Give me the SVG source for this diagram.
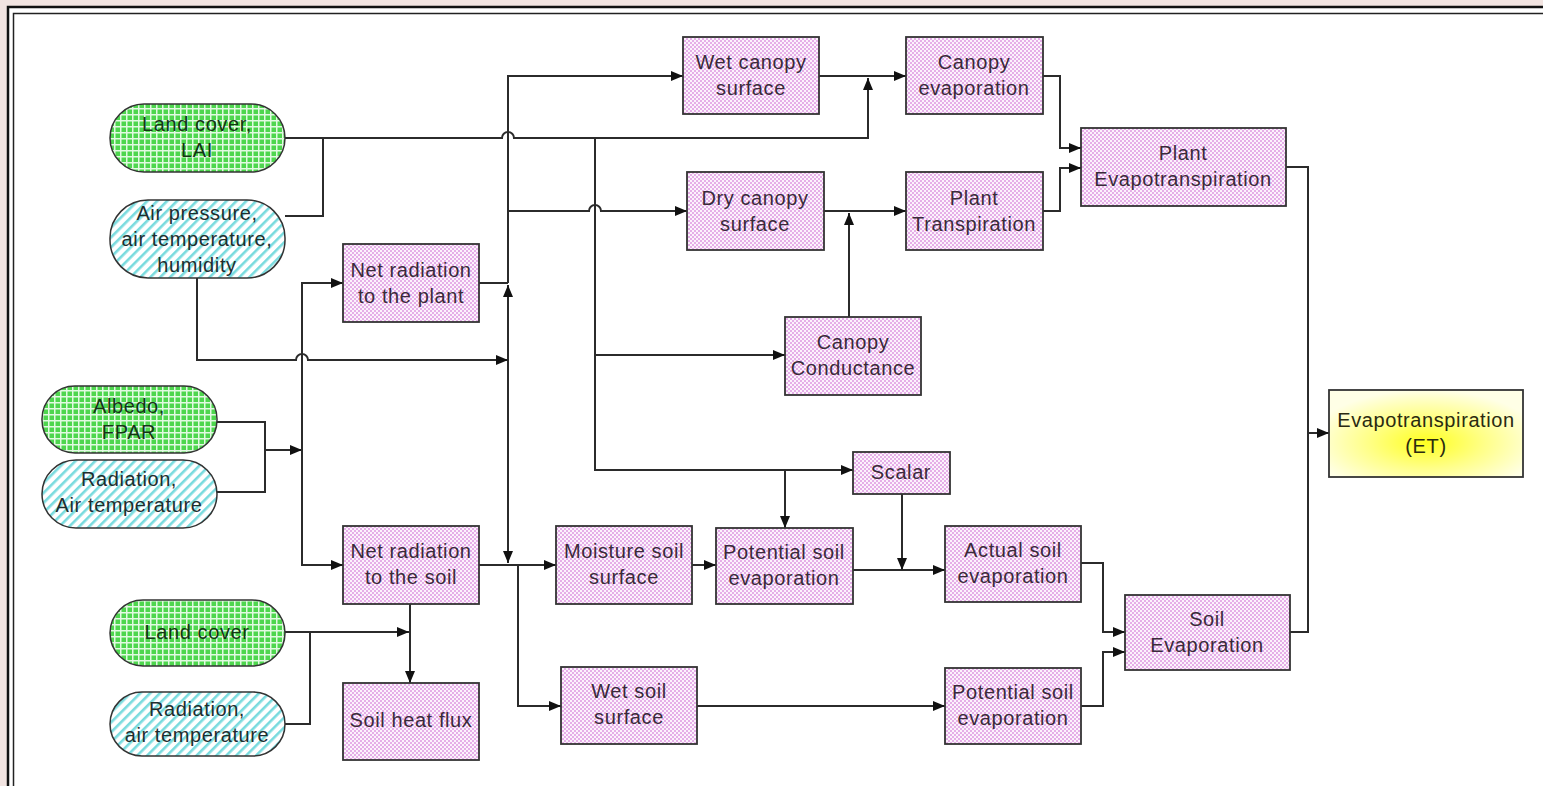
<svg xmlns="http://www.w3.org/2000/svg" width="1543" height="786" viewBox="0 0 1543 786">
<defs>
<pattern id="grid" width="6" height="6" patternUnits="userSpaceOnUse">
<rect width="6" height="6" fill="#4ed64e"/>
<path d="M0 0.75H6M0.75 0V6" stroke="#e2fae2" stroke-width="1.5"/>
</pattern>
<pattern id="stripe" width="7" height="7" patternUnits="userSpaceOnUse" patternTransform="rotate(45)">
<rect width="7" height="7" fill="#ffffff"/>
<rect width="2.6" height="7" fill="#79dbde"/>
</pattern>
<pattern id="dots" width="4" height="4" patternUnits="userSpaceOnUse">
<rect width="4" height="4" fill="#fcf2fc"/>
<circle cx="1" cy="1" r="0.95" fill="#dc92e0"/>
<circle cx="3" cy="3" r="0.95" fill="#dc92e0"/>
</pattern>
<radialGradient id="yel" cx="0.5" cy="0.6" r="0.6">
<stop offset="0" stop-color="#ffff20"/>
<stop offset="0.5" stop-color="#ffff88"/>
<stop offset="1" stop-color="#ffffe6"/>
</radialGradient>
<marker id="ah" viewBox="0 0 12 10" refX="12" refY="5" markerWidth="12" markerHeight="10" markerUnits="userSpaceOnUse" orient="auto">
<path d="M0 0L12 5L0 10z" fill="#111"/>
</marker>
</defs>
<style>
.pill{stroke:#333;stroke-width:1.5}
.g{fill:url(#grid)}
.c{fill:url(#stripe)}
.box{fill:url(#dots);stroke:#333;stroke-width:1.8}
text{font-family:"Liberation Sans",Arial,sans-serif;font-size:20px;letter-spacing:0.6px;text-anchor:middle}
.tb{fill:#3a2a3a}
.tg{fill:#143514}
.tc{fill:#1e2e2e}
.ln{fill:none;stroke:#2b2b2b;stroke-width:2}
.ar{marker-end:url(#ah)}
</style>
<rect width="1543" height="786" fill="#f2e4e1"/>
<rect x="8" y="7" width="1600" height="790" fill="#ffffff" stroke="#111" stroke-width="2.5"/>
<rect x="13.5" y="13.5" width="1600" height="780" fill="#ffffff" stroke="#222" stroke-width="1.5"/>

<g id="connectors">
<path class="ln ar" d="M285 138H502A6 6 0 0 1 514 138H868V78"/>
<path class="ln" d="M285 216H323V138"/>
<path class="ln ar" d="M595 138V470H853"/>
<path class="ln ar" d="M595 355H785"/>
<path class="ln ar" d="M785 470V528"/>
<path class="ln ar" d="M508 283V76H683"/>
<path class="ln ar" d="M508 211H589A6 6 0 0 1 601 211H687"/>
<path class="ln" d="M479 283H508"/>
<path class="ln ar" d="M508 360V285"/>
<path class="ln ar" d="M508 360V563"/>
<path class="ln ar" d="M197 278V360H296A6 6 0 0 1 308 360H508"/>
<path class="ln ar" d="M819 76H906"/>
<path class="ln ar" d="M824 211H906"/>
<path class="ln ar" d="M849 317V213"/>
<path class="ln ar" d="M1043 76H1060V148H1081"/>
<path class="ln ar" d="M1043 211H1060V168H1081"/>
<path class="ln" d="M1286 167H1308V632H1290"/>
<path class="ln ar" d="M1308 433H1329"/>
<path class="ln" d="M217 422H265V492H217"/>
<path class="ln ar" d="M265 450H302"/>
<path class="ln ar" d="M302 450V283H343"/>
<path class="ln ar" d="M302 450V565H343"/>
<path class="ln ar" d="M479 565H556"/>
<path class="ln ar" d="M518 565V706H561"/>
<path class="ln ar" d="M692 565H716"/>
<path class="ln ar" d="M853 570H945"/>
<path class="ln ar" d="M902 494V570"/>
<path class="ln ar" d="M410 604V683"/>
<path class="ln ar" d="M285 632H409"/>
<path class="ln" d="M285 724H310V632"/>
<path class="ln ar" d="M697 706H945"/>
<path class="ln ar" d="M1081 563H1103V632H1125"/>
<path class="ln ar" d="M1081 706H1103V652H1125"/>
</g>

<g id="n-landcover-lai"><rect class="pill g" x="110" y="104" width="175" height="68" rx="34"/><text class="tg" x="197" y="131">Land cover,</text><text class="tg" x="197" y="157">LAI</text></g>
<g id="n-airpressure"><rect class="pill c" x="110" y="200" width="175" height="78" rx="38"/><text class="tc" x="197" y="220">Air pressure,</text><text class="tc" x="197" y="246">air temperature,</text><text class="tc" x="197" y="272">humidity</text></g>
<g id="n-albedo"><rect class="pill g" x="42" y="386" width="175" height="67" rx="33"/><text class="tg" x="129" y="413">Albedo,</text><text class="tg" x="129" y="439">FPAR</text></g>
<g id="n-radiation1"><rect class="pill c" x="42" y="460" width="175" height="68" rx="34"/><text class="tc" x="129" y="486">Radiation,</text><text class="tc" x="129" y="512">Air temperature</text></g>
<g id="n-landcover"><rect class="pill g" x="110" y="600" width="175" height="66" rx="33"/><text class="tg" x="197" y="639">Land cover</text></g>
<g id="n-radiation2"><rect class="pill c" x="110" y="692" width="175" height="64" rx="32"/><text class="tc" x="197" y="716">Radiation,</text><text class="tc" x="197" y="742">air temperature</text></g>

<g id="n-netrad-plant"><rect class="box" x="343" y="244" width="136" height="78"/><text class="tb" x="411" y="277">Net radiation</text><text class="tb" x="411" y="303">to the plant</text></g>
<g id="n-netrad-soil"><rect class="box" x="343" y="526" width="136" height="78"/><text class="tb" x="411" y="558">Net radiation</text><text class="tb" x="411" y="584">to the soil</text></g>
<g id="n-soilheat"><rect class="box" x="343" y="683" width="136" height="77"/><text class="tb" x="411" y="727">Soil heat flux</text></g>
<g id="n-wetcanopy"><rect class="box" x="683" y="37" width="136" height="77"/><text class="tb" x="751" y="69">Wet canopy</text><text class="tb" x="751" y="95">surface</text></g>
<g id="n-canopyevap"><rect class="box" x="906" y="37" width="137" height="77"/><text class="tb" x="974" y="69">Canopy</text><text class="tb" x="974" y="95">evaporation</text></g>
<g id="n-drycanopy"><rect class="box" x="687" y="172" width="137" height="78"/><text class="tb" x="755" y="205">Dry canopy</text><text class="tb" x="755" y="231">surface</text></g>
<g id="n-planttrans"><rect class="box" x="906" y="172" width="137" height="78"/><text class="tb" x="974" y="205">Plant</text><text class="tb" x="974" y="231">Transpiration</text></g>
<g id="n-plantET"><rect class="box" x="1081" y="128" width="205" height="78"/><text class="tb" x="1183" y="160">Plant</text><text class="tb" x="1183" y="186">Evapotranspiration</text></g>
<g id="n-conductance"><rect class="box" x="785" y="317" width="136" height="78"/><text class="tb" x="853" y="349">Canopy</text><text class="tb" x="853" y="375">Conductance</text></g>
<g id="n-scalar"><rect class="box" x="853" y="452" width="97" height="42"/><text class="tb" x="901" y="479">Scalar</text></g>
<g id="n-moisture"><rect class="box" x="556" y="526" width="136" height="78"/><text class="tb" x="624" y="558">Moisture soil</text><text class="tb" x="624" y="584">surface</text></g>
<g id="n-potsoil1"><rect class="box" x="716" y="528" width="137" height="76"/><text class="tb" x="784" y="559">Potential soil</text><text class="tb" x="784" y="585">evaporation</text></g>
<g id="n-actualsoil"><rect class="box" x="945" y="526" width="136" height="76"/><text class="tb" x="1013" y="557">Actual soil</text><text class="tb" x="1013" y="583">evaporation</text></g>
<g id="n-soilevap"><rect class="box" x="1125" y="595" width="165" height="75"/><text class="tb" x="1207" y="626">Soil</text><text class="tb" x="1207" y="652">Evaporation</text></g>
<g id="n-wetsoil"><rect class="box" x="561" y="667" width="136" height="77"/><text class="tb" x="629" y="698">Wet soil</text><text class="tb" x="629" y="724">surface</text></g>
<g id="n-potsoil2"><rect class="box" x="945" y="668" width="136" height="76"/><text class="tb" x="1013" y="699">Potential soil</text><text class="tb" x="1013" y="725">evaporation</text></g>
<g id="n-et"><rect x="1329" y="390" width="194" height="87" fill="url(#yel)" stroke="#333" stroke-width="1.8"/><text fill="#2a2a10" x="1426" y="427">Evapotranspiration</text><text fill="#2a2a10" x="1426" y="453">(ET)</text></g>
</svg>
